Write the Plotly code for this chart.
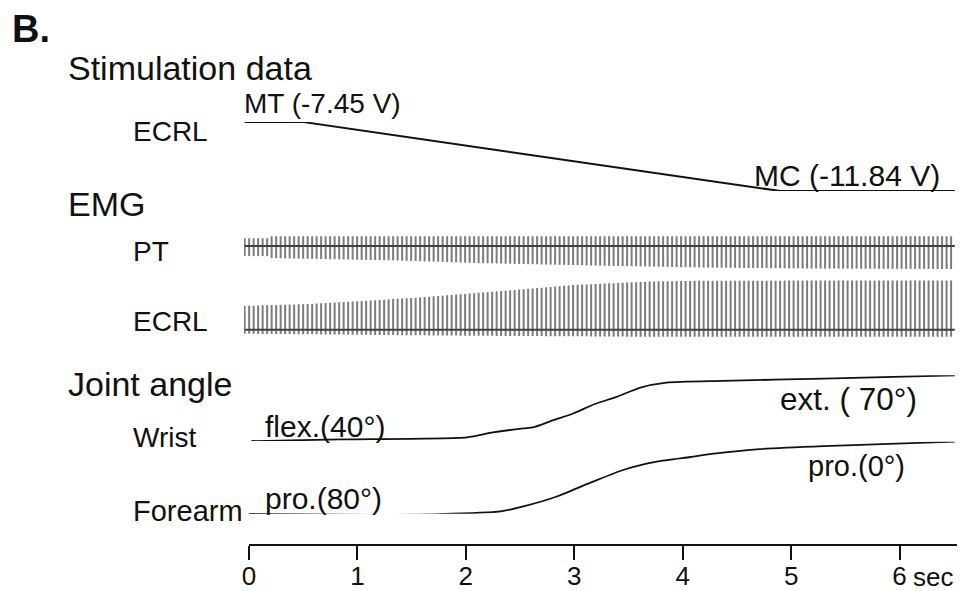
import numpy as np
import plotly.graph_objects as go

# ---------------- data ----------------
# Stimulation voltage of ECRL (V)
stim_t = [-0.04, 0.49, 4.90, 6.51]
stim_v = [-7.45, -7.45, -11.84, -11.84]

# Wrist angle (deg, negative = flexion, positive = extension)
wrist_t = [0.02, 0.84, 2.01, 2.25, 2.53, 2.62, 2.80, 2.99, 3.19, 3.39, 3.61, 3.85, 4.37, 5.30, 6.51]
wrist_deg = [-40, -37.2, -33.8, -25.5, -18.8, -17.2, -5.5, 6.2, 22, 34, 49.5, 57.8, 60.7, 64.5, 70]

# Forearm pronation angle (deg)
forearm_t = [0.0, 1.14, 1.76, 2.32, 2.53, 2.84, 3.15, 3.45, 3.76, 4.07, 4.31, 4.68, 5.30, 6.51]
forearm_pro = [80, 81.1, 80.3, 77.3, 71.8, 60.8, 45.5, 31.4, 22.1, 17.0, 13.0, 8.5, 4.9, 0]

# EMG: stimulus-locked responses (a.u.), envelope
emg_period = 0.0415           # s between stimulus pulses
emg_start, emg_end = -0.04, 6.51
pt_env_t = [-0.04, 0.17, 0.21, 1.4, 2.1, 3.2, 4.2, 5.2, 6.51]
pt_env_up = [8, 8, 10, 10, 10, 10, 10, 10, 10]
pt_env_down = [-10, -10, -12, -14.5, -17, -19.5, -21.5, -22.5, -23]
ecrl_env_t = [-0.04, 0.58, 1.05, 1.51, 2.11, 3.0, 3.7, 4.2, 6.51]
ecrl_env_up = [24, 26, 29, 32, 37, 45, 48.5, 49.3, 49.5]
ecrl_env_down = [-4, -4.5, -5, -5.5, -6, -6.5, -7, -7, -7]

tick_vals = [0, 1, 2, 3, 4, 5, 6]
tick_text = ["0", "1", "2", "3", "4", "5", "6"]

# ---------------- layout geometry ----------------
# the page body shifts the figure 8 px right and down: work in screen pixels
OFF = 8
W, H = 972 - OFF, 591 - OFF
AXIS_Y = 546               # screen pixel of the time axis line
L, R, T = 244 - OFF, 15, 0
B = H - (AXIS_Y - OFF)
PW, PH = W - L - R, H - T - B
FONT = "Liberation Sans, Arial, sans-serif"


def fx(px):
    return (px - 244) / PW


def fy(py):
    return (AXIS_Y - py) / PH


def spikes(env_t, up, down):
    ts = np.arange(emg_start, emg_end + 1e-9, emg_period)
    u = np.interp(ts, env_t, up)
    d = np.interp(ts, env_t, down)
    xs, ys = [], []
    for t, a, b in zip(ts, u, d):
        xs += [t, t, None]
        ys += [b, a, None]
    return xs, ys


fig = go.Figure()

# Stimulation
fig.add_trace(go.Scatter(x=stim_t, y=stim_v, mode="lines", yaxis="y",
                         line=dict(color="#111111", width=2)))

# EMG PT
xs, ys = spikes(pt_env_t, pt_env_up, pt_env_down)
fig.add_trace(go.Scatter(x=xs, y=ys, mode="lines", yaxis="y2",
                         line=dict(color="#7c7c7c", width=2)))
fig.add_trace(go.Scatter(x=[emg_start, emg_end], y=[0, 0], mode="lines", yaxis="y2",
                         line=dict(color="#404040", width=2)))

# EMG ECRL
xs, ys = spikes(ecrl_env_t, ecrl_env_up, ecrl_env_down)
fig.add_trace(go.Scatter(x=xs, y=ys, mode="lines", yaxis="y3",
                         line=dict(color="#7c7c7c", width=2)))
fig.add_trace(go.Scatter(x=[emg_start, emg_end], y=[0, 0], mode="lines", yaxis="y3",
                         line=dict(color="#404040", width=2)))

# Joint angles
fig.add_trace(go.Scatter(x=wrist_t, y=wrist_deg, mode="lines", yaxis="y4",
                         line=dict(color="#111111", width=1.8, shape="spline", smoothing=0.6)))
fig.add_trace(go.Scatter(x=forearm_t, y=forearm_pro, mode="lines", yaxis="y5",
                         line=dict(color="#111111", width=1.8, shape="spline", smoothing=0.6)))

# invisible trace carrying the time axis
fig.add_trace(go.Scatter(x=[0, 6.53], y=[0, 0], mode="lines", xaxis="x2", yaxis="y6",
                         opacity=0, line=dict(width=0)))

fig.update_traces(hoverinfo="skip", showlegend=False)

hidden = dict(visible=False, showgrid=False, zeroline=False, fixedrange=True)
fig.update_layout(
    width=W, height=H,
    margin=dict(l=L, r=R, t=T, b=B),
    paper_bgcolor="white", plot_bgcolor="white",
    font=dict(family=FONT, color="#111111"),
    xaxis=dict(range=[-0.046, 6.53], domain=[0, 1], **hidden),
    xaxis2=dict(range=[0, 6.53], domain=[fx(249), 1], anchor="y6",
                showline=True, linecolor="#111111", linewidth=2,
                ticks="outside", ticklen=14, tickwidth=2, tickcolor="#111111",
                tickvals=tick_vals, ticktext=tick_text,
                tickfont=dict(size=26, family=FONT, color="#111111"),
                ticklabelstandoff=-6,
                showgrid=False, zeroline=False),
    yaxis=dict(range=[-11.84, -7.45], domain=[fy(191.7), fy(122.3)], anchor="x", **hidden),
    yaxis2=dict(range=[-25, 15], domain=[fy(272), fy(232)], anchor="x", **hidden),
    yaxis3=dict(range=[-9, 53], domain=[fy(340), fy(278)], anchor="x", **hidden),
    yaxis4=dict(range=[-40, 70], domain=[fy(442.7), fy(376.7)], anchor="x", **hidden),
    yaxis5=dict(range=[80, 0], domain=[fy(515.7), fy(443.3)], anchor="x", **hidden),
    yaxis6=dict(range=[0, 1], domain=[0, 0.01], anchor="x2", **hidden),
)


def label(text, px, py, size, bold=False):
    fig.add_annotation(text=f"<b>{text}</b>" if bold else text,
                       x=fx(px), y=fy(py), xref="paper", yref="paper",
                       xanchor="left", yanchor="middle", showarrow=False,
                       font=dict(size=size, family=FONT, color="#111111"))


label("B.", 10, 29, 38, bold=True)
label("Stimulation data", 66, 68, 34)
label("ECRL", 131, 132, 28)
label("MT (-7.45 V)", 242, 104, 28)
label("MC (-11.84 V)", 752, 176, 30)
label("EMG", 66, 205, 34)
label("PT", 131, 252, 28)
label("ECRL", 131, 323, 28)
label("Joint angle", 66, 385, 34)
label("Wrist", 131, 439, 28)
label("Forearm", 131, 513, 29)
label("flex.(40°)", 263, 428, 30)
label("ext. ( 70°)", 778, 400, 31.5)
label("pro.(0°)", 806, 468, 29)
label("pro.(80°)", 263, 500, 30)
label("sec", 911, 579, 26)

fig.write_html("out.html")
